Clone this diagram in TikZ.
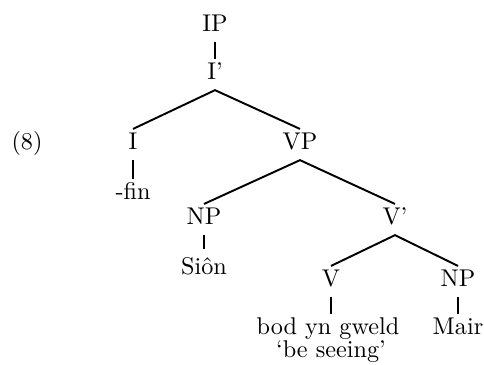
\documentclass[tikz,border=0pt]{standalone}
\begin{document}
\begin{tikzpicture}[x=0.4132pt,y=-0.4132pt,
  lab/.style={anchor=base, inner xsep=0pt, inner ysep=1.5pt, text height=7pt, text depth=0pt, font=\fontsize{10}{12}\selectfont},
  edge/.style={line width=0.8pt}]
\useasboundingbox (0,0) rectangle (484,365);
\node[lab] (ip) at (215,32) {IP};
\node[lab] (ibar) at (215,80) {I'};
\node[lab] (ex) at (27,150) {(8)};
\node[lab] (i) at (133,150) {I};
\node[lab] (vp) at (300,150) {VP};
\node[lab] (fin) at (133,200) {-fin};
\node[lab] (np1) at (204,225) {NP};
\node[lab] (vbar) at (395,225) {V'};
\node[lab] (sion) at (204,275) {Si\^on};
\node[lab] (v) at (331,287) {V};
\node[lab] (np2) at (458,287) {NP};
\node[lab] (bod) at (328,335) {bod yn gweld};
\node[lab] (gloss) at (331,358) {`be seeing'};
\node[lab] (mair) at (458,335) {Mair};
\draw[edge] ([yshift=-2.5pt]ip.south) -- (ibar.north);
\draw[edge] (i.north) -- ([yshift=-2.5pt]ibar.south) -- (vp.north);
\draw[edge] ([yshift=-2.5pt]i.south) -- (i.south |- fin.north);
\draw[edge] (np1.north) -- ([yshift=-2.5pt]vp.south) -- (vbar.north);
\draw[edge] ([yshift=-2.5pt]np1.south) -- ([yshift=2pt]np1.south |- sion.north);
\draw[edge] (v.north) -- ([yshift=-2.5pt]vbar.south) -- (np2.north);
\draw[edge] ([yshift=-2.5pt]v.south) -- (v.south |- bod.north);
\draw[edge] ([yshift=-2.5pt]np2.south) -- (np2.south |- mair.north);
\end{tikzpicture}
\end{document}
